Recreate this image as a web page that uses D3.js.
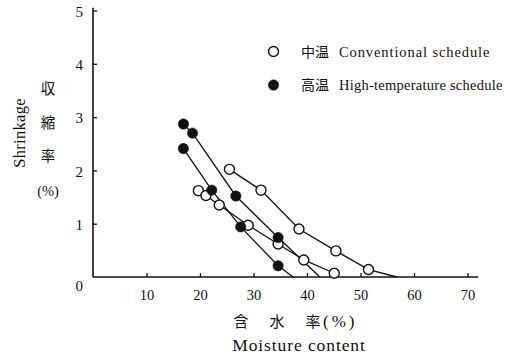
<!DOCTYPE html>
<html>
<head>
<meta charset="utf-8">
<script src="https://cdn.jsdelivr.net/npm/d3@7"></script>
<style>
  body { margin: 0; background: #fff; }
  text { fill: #111; }
  .latin { font-family: "Liberation Serif", "DejaVu Serif", serif; }
  .cjk { font-family: "Noto Sans CJK JP", sans-serif; font-weight: 400; }
</style>
</head>
<body>
<svg id="chart" width="510" height="360"></svg>
<script>
////////////////////////////////////////////////////////////////////////////////
//////////////////////////////////////////////////////////////////////// Data
////////////////////////////////////////////////////////////////////////////////

// moisture content (%) and shrinkage (%) per series
const convAMoisture  = [25.5, 31.4, 38.5, 45.4, 51.5, 56.8];
const convAShrinkage = [2.02, 1.63, 0.90, 0.49, 0.14, 0];
const convAMarked    = [true, true, true, true, true, false];

const convBMoisture  = [19.7, 21.1, 23.6, 29.0, 34.6, 39.4, 45.1];
const convBShrinkage = [1.62, 1.53, 1.35, 0.97, 0.62, 0.32, 0.07];
const convBMarked    = [true, true, true, true, true, true, true];

const highAMoisture  = [16.9, 22.2, 27.6, 34.6, 37.4];
const highAShrinkage = [2.41, 1.63, 0.94, 0.21, 0];
const highAMarked    = [true, true, true, true, false];

const highBMoisture  = [16.9, 18.6, 26.7, 34.6, 42.4];
const highBShrinkage = [2.87, 2.70, 1.52, 0.74, 0];
const highBMarked    = [true, true, true, true, false];

const xTicks = [10, 20, 30, 40, 50, 60, 70];
const yTicks = [0, 1, 2, 3, 4, 5];

function makeSeries(moisture, shrinkage, marked, filled) {
  return {
    filled: filled,
    points: moisture.map(function(m, i) {
      return { x: m, y: shrinkage[i], marked: marked[i] };
    })
  };
}

const series = [
  makeSeries(convAMoisture, convAShrinkage, convAMarked, false),
  makeSeries(convBMoisture, convBShrinkage, convBMarked, false),
  makeSeries(highAMoisture, highAShrinkage, highAMarked, true),
  makeSeries(highBMoisture, highBShrinkage, highBMarked, true)
];

////////////////////////////////////////////////////////////////////////////////
//////////////////////////////////////////////////////////////////////// Chart
////////////////////////////////////////////////////////////////////////////////

const svg = d3.select("#chart");

const xScale = d3.scaleLinear().domain([0, 70]).range([93, 467.5]);
const yScale = d3.scaleLinear().domain([0, 5]).range([277, 10.5]);

// axis lines
svg.append("line")
   .attr("x1", xScale(0)).attr("x2", xScale(72))
   .attr("y1", yScale(0)).attr("y2", yScale(0))
   .attr("stroke", "#111").attr("stroke-width", 1.6);
svg.append("line")
   .attr("x1", xScale(0)).attr("x2", xScale(0))
   .attr("y1", yScale(0)).attr("y2", yScale(5.05))
   .attr("stroke", "#111").attr("stroke-width", 1.6);

// X-axis ticks and labels
const xAxis = d3.axisBottom(xScale)
                .tickValues(xTicks)
                .tickSizeInner(-4)
                .tickSizeOuter(0)
                .tickPadding(13);
const xAxisG = svg.append("g")
                  .attr("transform", `translate(0, ${yScale(0)})`)
                  .call(xAxis);
xAxisG.select(".domain").remove();
xAxisG.selectAll("line").attr("stroke", "#111").attr("stroke-width", 1.3);
xAxisG.selectAll("text")
      .attr("class", "latin")
      .style("font-size", "14.5px")
      .attr("fill", "#111");

// Y-axis ticks and labels
const yAxis = d3.axisLeft(yScale)
                .tickValues(yTicks)
                .tickFormat(d3.format("d"))
                .tickSizeInner(-4)
                .tickSizeOuter(0)
                .tickPadding(10);
const yAxisG = svg.append("g")
                  .attr("transform", `translate(${xScale(0)}, 0)`)
                  .call(yAxis);
yAxisG.select(".domain").remove();
yAxisG.selectAll("line")
      .attr("stroke", "#111").attr("stroke-width", 1.3)
      .filter(function(d) { return d === 0; }).remove();
yAxisG.selectAll("text")
      .attr("class", "latin")
      .style("font-size", "15px")
      .attr("fill", "#111")
      .attr("dy", function(d) { return d === 0 ? "0.9em" : "0.38em"; });

// Draw lines
const line = d3.line()
               .x(function(d) { return xScale(d.x); })
               .y(function(d) { return yScale(d.y); });

svg.selectAll(".series-line")
   .data(series)
   .join("path")
     .attr("class", "series-line")
     .attr("fill", "none")
     .attr("stroke", "#111")
     .attr("stroke-width", 1.3)
     .attr("d", function(d) { return line(d.points); });

// Draw markers
series.forEach(function(s) {
  svg.append("g")
     .selectAll("circle")
     .data(s.points.filter(function(p) { return p.marked; }))
     .join("circle")
       .attr("cx", function(d) { return xScale(d.x); })
       .attr("cy", function(d) { return yScale(d.y); })
       .attr("r", s.filled ? 5.2 : 5)
       .attr("fill", s.filled ? "#111" : "#fff")
       .attr("stroke", "#111")
       .attr("stroke-width", s.filled ? 0.5 : 1.4);
});

// Legend
const legendItems = [
  { cjk: "中温", latin: "Conventional schedule", filled: false, y: 51.5, spacing: 0.9 },
  { cjk: "高温", latin: "High-temperature schedule", filled: true, y: 85, spacing: 0.25 }
];
const legend = svg.append("g");
legendItems.forEach(function(item) {
  legend.append("circle")
        .attr("cx", 273.5).attr("cy", item.y)
        .attr("r", item.filled ? 5.2 : 5)
        .attr("fill", item.filled ? "#111" : "#fff")
        .attr("stroke", "#111")
        .attr("stroke-width", item.filled ? 0.5 : 1.4);
  legend.append("text")
        .attr("class", "cjk")
        .attr("x", 301).attr("y", item.y + 5)
        .style("font-size", "14px")
        .text(item.cjk);
  legend.append("text")
        .attr("class", "latin")
        .attr("x", 339).attr("y", item.y + 5)
        .style("font-size", "14.5px")
        .style("letter-spacing", item.spacing + "px")
        .text(item.latin);
});

// Label axes
// Y-axis
svg.append("text")
   .attr("class", "latin")
   .attr("transform", "rotate(-90)")
   .attr("x", -133)
   .attr("y", 25)
   .style("text-anchor", "middle")
   .style("font-size", "16.5px")
   .style("letter-spacing", "0.3px")
   .text("Shrinkage");
["収", "縮", "率"].forEach(function(ch, i) {
  svg.append("text")
     .attr("class", "cjk")
     .attr("x", 48)
     .attr("y", 94 + i * 33.5)
     .style("text-anchor", "middle")
     .style("font-size", "14.5px")
     .text(ch);
});
svg.append("text")
   .attr("class", "latin")
   .attr("x", 48)
   .attr("y", 196)
   .style("text-anchor", "middle")
   .style("font-size", "14.5px")
   .text("(%)");

// X-axis
const xTitleChars = ["含", "水", "率"];
const xTitleCenters = [241, 277, 313];
xTitleChars.forEach(function(ch, i) {
  svg.append("text")
     .attr("class", "cjk")
     .attr("x", xTitleCenters[i])
     .attr("y", 327)
     .style("text-anchor", "middle")
     .style("font-size", "15px")
     .text(ch);
});
svg.append("text")
   .attr("class", "latin")
   .attr("x", 323)
   .attr("y", 327)
   .style("font-size", "17px")
   .style("letter-spacing", "3px")
   .text("(%)");
svg.append("text")
   .attr("class", "latin")
   .attr("x", 299)
   .attr("y", 351)
   .style("text-anchor", "middle")
   .style("font-size", "17.5px")
   .style("letter-spacing", "0.9px")
   .text("Moisture content");
</script>
</body>
</html>
